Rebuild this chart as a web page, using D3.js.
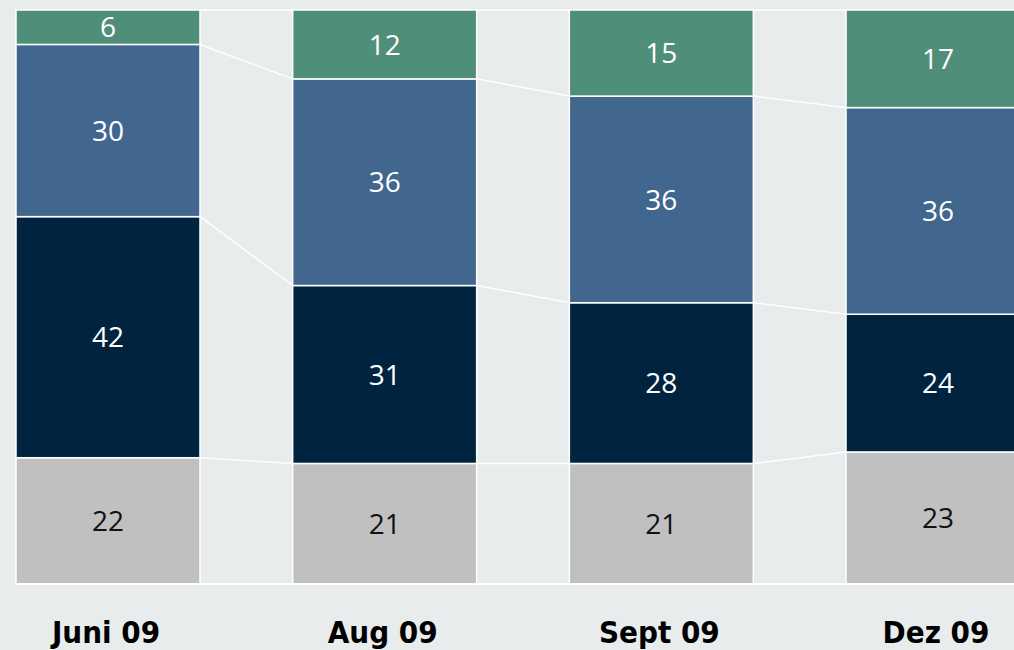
<!DOCTYPE html>
<html>
<head>
<meta charset="utf-8">
<script src="https://cdn.jsdelivr.net/npm/d3@7"></script>
<style>
  html, body { margin: 0; padding: 0; background: #E8ECED; overflow: hidden; }
  svg { display: block; }
</style>
</head>
<body>
<script>
// Datos del gráfico (porcentajes apilados, de abajo hacia arriba)
var categorias = ["Juni 09", "Aug 09", "Sept 09", "Dez 09"];
var serieGris  = [22, 21, 21, 23];
var serieNavy  = [42, 31, 28, 24];
var serieAzul  = [30, 36, 36, 36];
var serieVerde = [6, 12, 15, 17];

var series = [
  { key: "gris",  valores: serieGris,  color: "#C0C0C0", texto: "#111111" },
  { key: "navy",  valores: serieNavy,  color: "#002440", texto: "#FFFFFF" },
  { key: "azul",  valores: serieAzul,  color: "#41678F", texto: "#FFFFFF" },
  { key: "verde", valores: serieVerde, color: "#4F8E79", texto: "#FFFFFF" }
];

var width = 1014, height = 650;

var datos = categorias.map(function(c, i) {
  var d = { cat: c };
  series.forEach(function(s) { d[s.key] = s.valores[i]; });
  return d;
});

var stack = d3.stack().keys(series.map(function(s) { return s.key; }));
var capas = stack(datos);

// Escalas
var x = d3.scaleBand()
  .domain(categorias)
  .range([16, 1030])
  .paddingInner(0.335)
  .paddingOuter(0);

var y = d3.scaleLinear()
  .domain([0, 100])
  .range([584, 10]);

var svg = d3.select("body")
  .append("svg")
  .attr("width", width)
  .attr("height", height);

svg.append("rect")
  .attr("width", width)
  .attr("height", height)
  .attr("fill", "#E8ECED");

// Líneas de conexión entre segmentos
var gLineas = svg.append("g");
capas.forEach(function(capa) {
  for (var i = 0; i < categorias.length - 1; i++) {
    gLineas.append("line")
      .attr("x1", x(categorias[i]) + x.bandwidth())
      .attr("y1", y(capa[i][1]))
      .attr("x2", x(categorias[i + 1]))
      .attr("y2", y(capa[i + 1][1]))
      .attr("stroke", "#FFFFFF")
      .attr("stroke-width", 1.5);
  }
});

// Barras apiladas
var gBarras = svg.append("g");
capas.forEach(function(capa, k) {
  var s = series[k];
  gBarras.append("g")
    .selectAll("rect")
    .data(capa)
    .enter()
    .append("rect")
    .attr("x", function(d) { return x(d.data.cat); })
    .attr("y", function(d) { return y(d[1]); })
    .attr("width", x.bandwidth())
    .attr("height", function(d) { return y(d[0]) - y(d[1]); })
    .attr("fill", s.color)
    .attr("stroke", "#FFFFFF")
    .attr("stroke-width", 1.5);

  gBarras.append("g")
    .selectAll("text")
    .data(capa)
    .enter()
    .append("text")
    .attr("x", function(d) { return x(d.data.cat) + x.bandwidth() / 2; })
    .attr("y", function(d) { return (y(d[0]) + y(d[1])) / 2; })
    .attr("dy", "0.36em")
    .attr("text-anchor", "middle")
    .style("font-family", "'Open Sans', sans-serif")
    .style("font-size", "28px")
    .style("fill", s.texto)
    .text(function(d) { return d[1] - d[0]; });
});

// Línea base
svg.append("line")
  .attr("x1", 16)
  .attr("x2", width)
  .attr("y1", y(0))
  .attr("y2", y(0))
  .attr("stroke", "#FFFFFF")
  .attr("stroke-width", 2);

// Etiquetas de categoría
svg.append("g")
  .selectAll("text")
  .data(categorias)
  .enter()
  .append("text")
  .attr("x", function(d) { return x(d) + x.bandwidth() / 2 - 2; })
  .attr("y", 643)
  .attr("text-anchor", "middle")
  .style("font-family", "'DejaVu Sans Condensed', 'DejaVu Sans', sans-serif")
  .style("font-weight", "bold")
  .style("font-size", "31px")
  .style("fill", "#000000")
  .text(function(d) { return d; });
</script>
</body>
</html>
